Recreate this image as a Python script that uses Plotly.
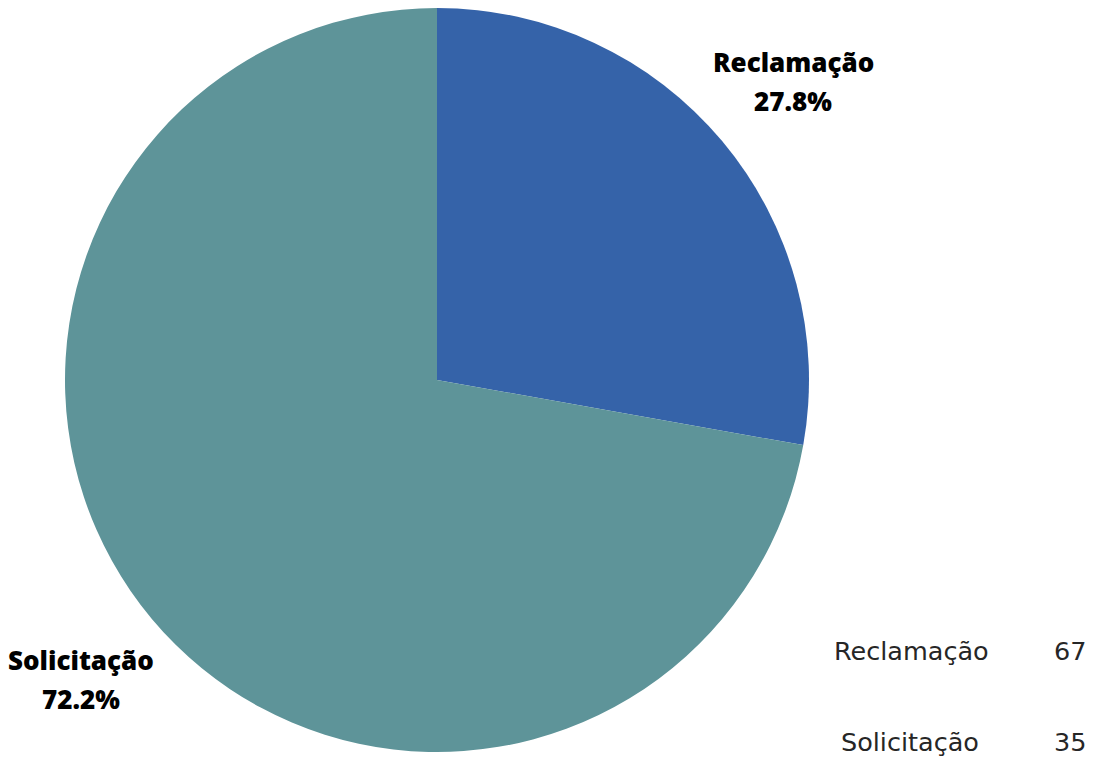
import math
import plotly.graph_objects as go

categories = ["Reclamação", "Solicitação"]
percent_values = [27.8, 72.2]
table_labels = ["Reclamação", "Solicitação"]
table_values = [67, 35]
colors = ["#3563A9", "#5E9499"]

# page body has an 8px default margin; figure occupies window pixels 8..1097, 8..758
OFF = 8
W, H = 1097 - OFF, 758 - OFF
R = 372
cx_px = 437 - OFF          # pie centre in figure pixels
cy_px = 380 - OFF
MT = cy_px - R             # 0
MB = H - (cy_px + R)       # 6
ph = H - MT - MB
dom_x = [(cx_px - R) / W, (cx_px + R) / W]

fig = go.Figure(go.Pie(
    labels=categories,
    values=percent_values,
    sort=False,
    direction="clockwise",
    rotation=0,
    marker=dict(colors=colors, line=dict(width=0)),
    textinfo="none",
    hoverinfo="label+percent",
    showlegend=False,
    domain=dict(x=dom_x, y=[0, 1]),
))


def to_paper(px, py):
    return px / W, (H - MB - py) / ph


total = sum(percent_values)
annotations = []
cum = 0
label_font = dict(family="Open Sans", size=26, color="black", weight=800)
for cat, v in zip(categories, percent_values):
    mid = (cum + v / 2) / total * 2 * math.pi
    cum += v
    rl = 1.25 * R
    px = cx_px + rl * math.sin(mid)
    py = cy_px - rl * math.cos(mid)
    xp, yp = to_paper(px, py)
    annotations.append(dict(x=xp, y=yp, xref="paper", yref="paper", text=cat,
                            showarrow=False, font=label_font, yshift=19,
                            xanchor="center", yanchor="middle"))
    annotations.append(dict(x=xp, y=yp, xref="paper", yref="paper",
                            text=f"{v / total * 100:.1f}%",
                            showarrow=False, font=label_font, yshift=-20,
                            xanchor="center", yanchor="middle"))

table_font = dict(family="DejaVu Sans", size=25.5, color="#262626", weight=400)
row_y = [651 - OFF, 742 - OFF]
name_right = [991 - OFF, 981 - OFF]
val_right = 1088 - OFF
for lab, val, ry, nr in zip(table_labels, table_values, row_y, name_right):
    xn, yr = to_paper(nr, ry)
    xv, _ = to_paper(val_right, ry)
    annotations.append(dict(x=xn, y=yr, xref="paper", yref="paper",
                            text=lab, showarrow=False, font=table_font,
                            xanchor="right", yanchor="middle"))
    annotations.append(dict(x=xv, y=yr, xref="paper", yref="paper",
                            text=str(val), showarrow=False, font=table_font,
                            xanchor="right", yanchor="middle"))

fig.update_layout(
    width=W, height=H,
    margin=dict(l=0, r=0, t=MT, b=MB),
    paper_bgcolor="white", plot_bgcolor="white",
    annotations=annotations,
)
fig.write_html("out.html")
